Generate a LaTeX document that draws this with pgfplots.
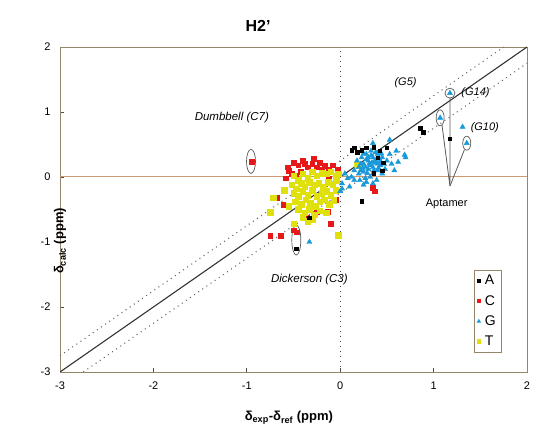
\documentclass[border=0pt]{standalone}
\usepackage{fontspec}
\setmainfont{Liberation Sans}
\usepackage{pgfplots}
\pgfplotsset{compat=1.18}
\definecolor{framecol}{rgb}{0.58,0.52,0.42}
\definecolor{tanline}{rgb}{0.80,0.60,0.45}
\definecolor{cY}{rgb}{0.88,0.88,0.05}
\definecolor{cR}{rgb}{0.90,0.10,0.10}
\definecolor{cB}{rgb}{0.10,0.60,0.85}
\definecolor{annot}{rgb}{0.35,0.35,0.35}
\begin{document}
\begin{tikzpicture}
\begin{axis}[
  width=467pt, height=325pt, scale only axis,
  xmin=-3, xmax=2, ymin=-3, ymax=2,
  xtick={-3,-2,-1,0,1,2}, ytick={-3,-2,-1,0,1,2},
  tick pos=left, tick align=inside, major tick length=3.5pt,
  tick style={draw=black!70, line width=0.7pt},
  /pgf/number format/assume math mode=true,
  ticklabel style={font=\fontsize{11}{13}\selectfont},
  xticklabel style={yshift=-6pt},
  yticklabel style={xshift=-6pt},
  axis line style={draw=framecol, line width=0.9pt},
  title={H2'},
  title style={at={(axis description cs:0.424,1)}, anchor=south, yshift=6pt, font=\bfseries\fontsize{16}{18}\selectfont},
  xlabel={\bfseries δ\textsubscript{exp}-δ\textsubscript{ref} (ppm)},
  xlabel style={at={(axis description cs:0.49,0)}, anchor=center, yshift=-46pt, font=\fontsize{13}{15}\selectfont},
  ylabel={\bfseries δ\textsubscript{calc} (ppm)},
  ylabel style={at={(axis description cs:0,0.52)}, anchor=center, xshift=-38pt, font=\fontsize{13}{15}\selectfont},
  legend style={at={(rel axis cs:0.886,0.314)}, anchor=north west, draw=framecol, line width=0.6pt,
    font=\fontsize{14}{16}\selectfont, row sep=5pt, inner sep=3pt, cells={anchor=west}},
  legend entries={\,A,\,C,\,G,\,T},
]
\addlegendimage{only marks, mark=square*, mark size=1.4pt, color=black}
\addlegendimage{only marks, mark=square*, mark size=1.6pt, color=cR}
\addlegendimage{only marks, mark=triangle*, mark size=1.9pt, color=cB}
\addlegendimage{only marks, mark=square*, mark size=1.8pt, color=cY}

% reference lines
\addplot[forget plot, tanline, line width=1pt] coordinates {(-3,0) (2,0)};
\addplot[forget plot, black!70, dash pattern=on 1pt off 4pt, line width=1pt] coordinates {(0,-3) (0,2)};
\addplot[forget plot, black!80, line width=1.1pt] coordinates {(-3,-3) (2,2)};
\addplot[forget plot, black!60, dash pattern=on 1pt off 4pt, line width=1.1pt] coordinates {(-3,-2.75) (1.75,2)};
\addplot[forget plot, black!60, dash pattern=on 1pt off 4pt, line width=1.1pt] coordinates {(-2.75,-3) (2,1.75)};

% C (red)
\addplot[forget plot, only marks, mark=square*, mark size=2.4pt, color=cR] coordinates {
(-0.56,0.15) (-0.50,0.22) (-0.45,0.18) (-0.40,0.25) (-0.35,0.15) (-0.30,0.20) (-0.25,0.15)
(-0.20,0.12) (-0.17,0.17) (-0.12,0.12) (-0.08,0.18) (-0.52,0.05) (-0.58,-0.02) (-0.48,0.02)
(-0.42,0.08) (-0.12,-0.03) (-0.68,-0.32) (-0.61,-0.43) (-0.25,-0.54) (-0.10,-0.72) (-0.75,-0.90)
(-0.64,-0.90) (-0.50,-0.82) (-0.36,-0.63) (-0.13,-0.53) (0.37,-0.22) (-0.95,0.23) (-0.47,-0.85)
(-0.05,-0.35) (-0.03,0.12) (0.35,-0.17) (-0.28,0.28) (-0.38,0.20) (-0.55,0.10) (-0.22,0.22)
};
% T (yellow)
\addplot[forget plot, only marks, mark=square*, mark size=2.8pt, color=cY] coordinates {
(-0.50,0.02) (-0.45,-0.05) (-0.40,0.05) (-0.35,-0.02) (-0.30,0.08) (-0.25,0.02) (-0.20,0.06)
(-0.15,0.05) (-0.10,0.08) (-0.05,0.02) (-0.02,0.05)
(-0.52,-0.12) (-0.47,-0.18) (-0.42,-0.10) (-0.38,-0.15) (-0.33,-0.08) (-0.28,-0.12) (-0.23,-0.10)
(-0.18,-0.15) (-0.13,-0.08) (-0.08,-0.12) (-0.04,-0.05)
(-0.50,-0.25) (-0.45,-0.30) (-0.40,-0.22) (-0.35,-0.28) (-0.30,-0.20) (-0.25,-0.30) (-0.20,-0.25)
(-0.15,-0.22) (-0.10,-0.28) (-0.05,-0.20)
(-0.48,-0.38) (-0.42,-0.42) (-0.37,-0.35) (-0.32,-0.40) (-0.27,-0.45) (-0.22,-0.38) (-0.17,-0.35)
(-0.12,-0.42) (-0.07,-0.36)
(-0.45,-0.50) (-0.38,-0.55) (-0.33,-0.50) (-0.28,-0.58) (-0.22,-0.52) (-0.15,-0.55)
(-0.40,-0.62) (-0.35,-0.68) (-0.30,-0.65)
(-0.72,-0.32) (-0.75,-0.54) (-0.50,-0.72) (-0.02,-0.90) (-0.60,-0.20) (-0.55,-0.45) (0.18,0.18)
};
% G (blue)
\addplot[forget plot, only marks, mark=triangle*, mark size=3pt, color=cB] coordinates {
(0.15,0.10) (0.20,0.15) (0.25,0.20) (0.30,0.25) (0.35,0.30) (0.40,0.35) (0.45,0.30) (0.50,0.25) (0.55,0.20)
(0.18,0.25) (0.23,0.30) (0.28,0.35) (0.33,0.40) (0.38,0.22) (0.43,0.18) (0.48,0.12) (0.53,0.35)
(0.20,0.05) (0.25,0.08) (0.30,0.12) (0.35,0.15) (0.40,0.10) (0.45,0.05) (0.32,0.00) (0.27,-0.02)
(0.22,0.20) (0.27,0.15) (0.32,0.18) (0.37,0.25) (0.42,0.28) (0.30,0.30) (0.35,0.05) (0.40,0.20)
(0.22,0.10) (0.28,0.27) (0.33,0.33) (0.38,0.38) (0.43,0.24) (0.47,0.20) (0.25,0.36) (0.34,0.22)
(0.29,0.06) (0.41,0.14) (0.36,0.10) (0.24,0.14) (0.44,0.36) (0.39,0.28) (0.31,0.20)
(0.05,0.05) (0.08,-0.02) (0.12,0.00) (0.02,-0.10) (0.10,-0.15) (0.00,-0.22) (0.15,-0.05)
(0.21,-0.05) (0.28,-0.08) (0.35,-0.10) (0.39,-0.05) (0.25,-0.12)
(0.53,0.57) (0.35,0.52) (0.62,0.23) (0.69,0.34) (0.70,0.30) (0.60,0.40) (0.58,0.10)
(1.31,0.77) (-0.33,-1.00) (0.02,-0.18) (1.07,0.91) (1.175,1.29) (1.355,0.52)
};
% A (black)
\addplot[forget plot, only marks, mark=square*, mark size=1.7pt, color=black] coordinates {
(0.12,0.41) (0.23,0.41) (0.36,0.46) (0.42,0.40) (0.45,0.10) (0.36,0.06) (0.50,0.45)
(0.28,0.45) (0.18,0.38) (0.15,0.45) (0.40,0.30) (0.46,0.22)
(0.23,-0.37) (-0.33,-0.63) (-0.47,-1.10) (0.855,0.75) (0.89,0.69) (1.175,0.585)
};

% annotations
\draw[annot, line width=0.7pt] (axis cs:-0.955,0.24) ellipse [x radius=4.5pt, y radius=12pt];
\draw[annot, line width=0.7pt] (axis cs:-0.47,-0.97) ellipse [x radius=4.5pt, y radius=15pt];
\draw[annot, line width=0.7pt] (axis cs:1.07,0.91) ellipse [x radius=4pt, y radius=8pt];
\draw[annot, line width=0.7pt] (axis cs:1.355,0.52) ellipse [x radius=4pt, y radius=7pt];
\draw[annot, line width=0.7pt] (axis cs:1.175,1.29) circle [radius=5pt];
\draw[annot, line width=0.8pt] (axis cs:1.09,0.80) -- (axis cs:1.175,-0.14) -- (axis cs:1.175,1.22);
\draw[annot, line width=0.8pt] (axis cs:1.175,-0.14) -- (axis cs:1.33,0.42);

\node[font=\itshape\fontsize{11.5}{13}\selectfont] at (axis cs:-1.16,0.92) {Dumbbell (C7)};
\node[font=\itshape\fontsize{11.5}{13}\selectfont] at (axis cs:-0.33,-1.57) {Dickerson (C3)};
\node[font=\itshape\fontsize{11}{13}\selectfont] at (axis cs:0.70,1.45) {(G5)};
\node[font=\itshape\fontsize{11}{13}\selectfont, anchor=west] at (axis cs:1.26,1.30) {(G14)};
\node[font=\itshape\fontsize{11}{13}\selectfont, anchor=west] at (axis cs:1.36,0.76) {(G10)};
\node[font=\fontsize{11}{13}\selectfont] at (axis cs:1.14,-0.42) {Aptamer};
\end{axis}
\pgfresetboundingbox
\path ([shift={(-60pt,-58pt)}]current axis.south west) rectangle ([shift={(8pt,47pt)}]current axis.north east);
\end{tikzpicture}
\end{document}
